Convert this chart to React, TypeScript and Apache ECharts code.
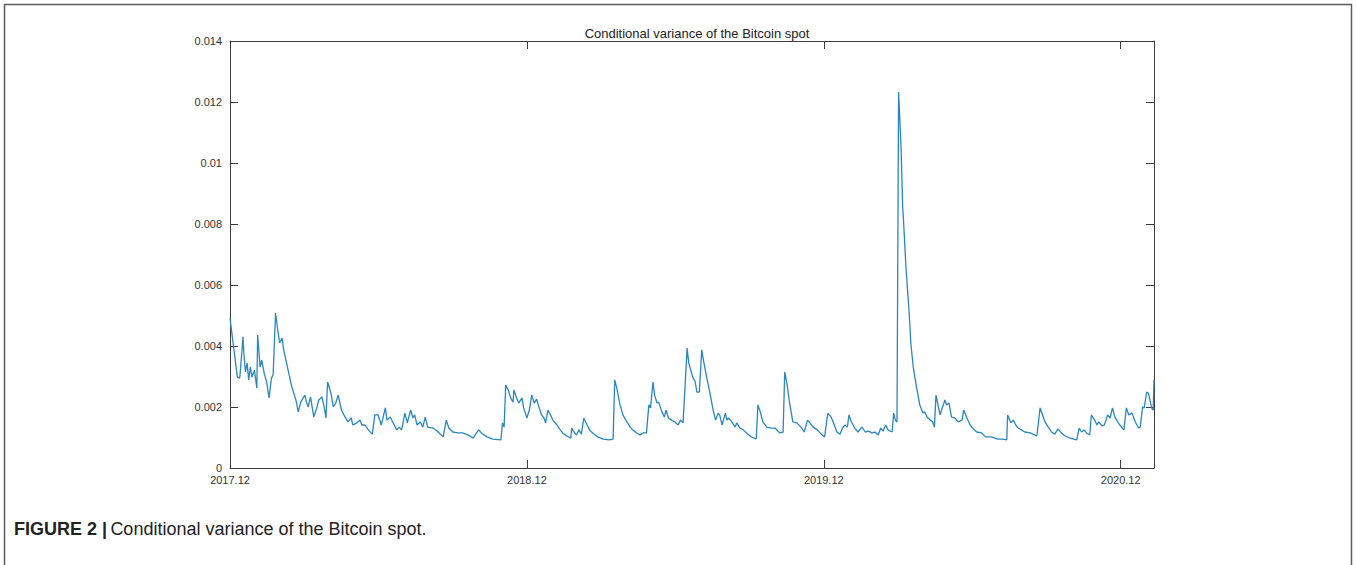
import React, { useEffect, useRef } from "react";
import * as echarts from "echarts";

// day index since 2017.12 (x) and conditional variance (y)
const days = [
  0, 1, 6, 9, 12, 14, 16, 17, 19, 21, 23, 25, 27, 30, 33, 34, 37, 39, 42, 45, 48, 51, 53, 56, 59, 61, 64, 66, 70, 76,
  81, 84, 87, 90, 92, 94, 96, 99, 103, 107, 109, 113, 116, 118, 120, 124, 127, 130, 133, 137, 140, 145, 149, 151, 156,
  160, 162, 166, 170, 175, 178, 182, 186, 191, 193, 197, 200, 205, 208, 211, 215, 218, 222, 225, 227, 230, 234, 237,
  240, 243, 250, 256, 262, 266, 269, 274, 280, 286, 293, 299, 303, 306, 309, 316, 323, 333, 335, 337, 339, 342, 345,
  348, 349, 352, 355, 359, 361, 365, 368, 371, 374, 377, 379, 383, 386, 388, 391, 394, 397, 402, 406, 409, 414, 419,
  420, 423, 426, 429, 432, 435, 439, 443, 446, 452, 459, 466, 471, 473, 476, 479, 483, 488, 492, 495, 500, 504, 508,
  512, 515, 517, 520, 522, 525, 527, 531, 534, 536, 539, 543, 547, 551, 554, 557, 562, 564, 569, 572, 574, 577, 580,
  582, 586, 590, 594, 597, 600, 602, 605, 609, 611, 613, 617, 621, 623, 627, 631, 635, 641, 647, 649, 652, 655, 660,
  665, 670, 676, 680, 682, 685, 688, 692, 697, 702, 706, 710, 713, 717, 722, 727, 731, 735, 739, 743, 746, 750, 753,
  756, 759, 761, 764, 768, 772, 777, 781, 785, 789, 793, 797, 800, 803, 806, 809, 814, 816, 818, 820, 822, 825, 827,
  828, 829, 831, 835, 837, 840, 844, 848, 852, 854, 857, 861, 864, 866, 868, 870, 873, 876, 879, 881, 884, 887, 891,
  895, 900, 902, 906, 910, 913, 918, 924, 929, 936, 944, 950, 955, 956, 960, 963, 966, 969, 973, 977, 984, 992, 996,
  999, 1002, 1006, 1010, 1014, 1018, 1022, 1027, 1033, 1041, 1044, 1047, 1050, 1053, 1057, 1059, 1063, 1066, 1068,
  1072, 1075, 1079, 1082, 1085, 1088, 1092, 1096, 1099, 1102, 1105, 1109, 1113, 1117, 1119, 1122, 1124, 1127, 1129,
  1131, 1133, 1135, 1136,
];

const variance = [
  0.00492, 0.00469, 0.00364, 0.00298, 0.00295, 0.00361, 0.0043, 0.00377, 0.00315, 0.00344, 0.00289, 0.00331, 0.00298,
  0.00321, 0.00262, 0.00436, 0.00331, 0.00354, 0.00311, 0.00282, 0.0023, 0.00295, 0.00305, 0.00508, 0.00446, 0.0041,
  0.00426, 0.00387, 0.00338, 0.00266, 0.00223, 0.00184, 0.00216, 0.0023, 0.00239, 0.00216, 0.002, 0.00233, 0.00167,
  0.002, 0.00223, 0.00233, 0.00197, 0.00164, 0.00282, 0.00246, 0.002, 0.00213, 0.00239, 0.0019, 0.00174, 0.00151,
  0.00164, 0.00141, 0.00148, 0.00157, 0.00141, 0.00141, 0.00125, 0.00111, 0.00174, 0.00174, 0.00141, 0.00197, 0.00157,
  0.00167, 0.00151, 0.00125, 0.00134, 0.00125, 0.0018, 0.00148, 0.0019, 0.00164, 0.00174, 0.00141, 0.00151, 0.00134,
  0.00167, 0.00134, 0.00131, 0.00118, 0.00102, 0.00157, 0.00131, 0.00118, 0.00115, 0.00115, 0.00108, 0.00098, 0.00115,
  0.00125, 0.00115, 0.00102, 0.00095, 0.00092, 0.00148, 0.00134, 0.00272, 0.00256, 0.0023, 0.00216, 0.00256, 0.00233,
  0.00213, 0.0023, 0.00197, 0.00164, 0.0019, 0.00239, 0.00213, 0.00226, 0.00207, 0.00174, 0.00164, 0.00148, 0.0019,
  0.00174, 0.00157, 0.00141, 0.00125, 0.00115, 0.00105, 0.00098, 0.00131, 0.00118, 0.00108, 0.00125, 0.00111, 0.00164,
  0.00141, 0.00121, 0.00115, 0.00102, 0.00095, 0.00092, 0.00095, 0.00289, 0.00256, 0.00213, 0.00174, 0.00151, 0.00134,
  0.00125, 0.00115, 0.00108, 0.00115, 0.00115, 0.00207, 0.00197, 0.00282, 0.00239, 0.00213, 0.00216, 0.00184, 0.00167,
  0.0019, 0.00164, 0.00157, 0.00151, 0.00141, 0.00157, 0.00148, 0.00393, 0.00344, 0.00298, 0.00282, 0.00249, 0.00249,
  0.00387, 0.00354, 0.00298, 0.00246, 0.0019, 0.00157, 0.0018, 0.00174, 0.00141, 0.0018, 0.00157, 0.00164, 0.00151,
  0.00134, 0.00148, 0.00131, 0.00125, 0.00115, 0.00102, 0.00095, 0.00207, 0.00184, 0.00151, 0.00134, 0.00131, 0.00131,
  0.00115, 0.00118, 0.00315, 0.00272, 0.00213, 0.00151, 0.00148, 0.00134, 0.00118, 0.00157, 0.00148, 0.00134, 0.00125,
  0.00111, 0.00102, 0.0018, 0.00167, 0.00141, 0.00118, 0.00111, 0.00131, 0.00141, 0.00134, 0.00174, 0.00151, 0.00131,
  0.00118, 0.00134, 0.00118, 0.00121, 0.00115, 0.00118, 0.00108, 0.00131, 0.00121, 0.00141, 0.00125, 0.00118, 0.0018,
  0.00157, 0.00151, 0.01233, 0.01052, 0.00856, 0.00813, 0.00764, 0.00659, 0.00508, 0.0041, 0.00331, 0.00266, 0.00207,
  0.0018, 0.00184, 0.00167, 0.00157, 0.00151, 0.00134, 0.00239, 0.00213, 0.00174, 0.002, 0.00223, 0.00207, 0.00213,
  0.00167, 0.00164, 0.00151, 0.00157, 0.0019, 0.00164, 0.00141, 0.00131, 0.00118, 0.00115, 0.00102, 0.00102, 0.00095,
  0.00095, 0.00092, 0.00174, 0.00148, 0.00157, 0.00141, 0.00131, 0.00125, 0.00118, 0.00115, 0.00105, 0.00197, 0.00174,
  0.00151, 0.00134, 0.00118, 0.00111, 0.00128, 0.00115, 0.00105, 0.00098, 0.00092, 0.00131, 0.00118, 0.00125, 0.00115,
  0.00108, 0.00174, 0.00157, 0.00141, 0.00151, 0.00138, 0.00141, 0.00174, 0.00164, 0.00197, 0.00167, 0.00148, 0.00134,
  0.00125, 0.00197, 0.00174, 0.0018, 0.00151, 0.00131, 0.00134, 0.002, 0.00197, 0.00249, 0.00246, 0.00223, 0.00197,
  0.0019, 0.00289,
];

const xTickLabels = ["2017.12", "2018.12", "2019.12", "2020.12"];
const xMax = 1136;
const yMax = 0.014;

const FONT = "'Liberation Sans', Arial, Helvetica, sans-serif";
const AXIS_COLOR = "#3c3c3c";

export default function App() {
  const ref = useRef<HTMLDivElement>(null);

  useEffect(() => {
    document.body.style.margin = "0";
    if (!ref.current) return;
    const chart = echarts.init(ref.current, null, { renderer: "svg" });

    const data = days.map((d, i) => [d, variance[i]]);

    const xCommon = {
      type: "value" as const,
      min: 0,
      max: xMax,
      interval: 365,
      splitLine: { show: false },
      axisLine: { show: true, onZero: false, lineStyle: { color: AXIS_COLOR, width: 1 } },
      axisTick: { show: true, inside: true, length: 8, lineStyle: { color: AXIS_COLOR } },
    };
    const yCommon = {
      type: "value" as const,
      min: 0,
      max: yMax,
      interval: 0.002,
      splitLine: { show: false },
      axisLine: { show: true, onZero: false, lineStyle: { color: AXIS_COLOR, width: 1 } },
      axisTick: { show: true, inside: true, length: 8, lineStyle: { color: AXIS_COLOR } },
    };

    chart.setOption({
      animation: false,
      backgroundColor: "#ffffff",
      title: {
        text: "Conditional variance of the Bitcoin spot",
        left: 692,
        top: 22,
        textAlign: "center",
        textStyle: { fontFamily: FONT, fontSize: 13, fontWeight: "normal", color: "#222" },
      },
      grid: { left: 230, right: 203, top: 41, bottom: 97, containLabel: false },
      xAxis: [
        {
          ...xCommon,
          position: "bottom",
          axisLabel: {
            show: true,
            margin: 6,
            fontFamily: FONT,
            fontSize: 11,
            color: "#333",
            showMaxLabel: false,
            formatter: (v: number) => {
              const idx = Math.round(v / 365);
              return Math.abs(v - idx * 365) < 2 ? xTickLabels[idx] ?? "" : "";
            },
          },
        },
        { ...xCommon, position: "top", axisLabel: { show: false } },
      ],
      yAxis: [
        {
          ...yCommon,
          position: "left",
          axisLabel: {
            show: true,
            margin: 8,
            fontFamily: FONT,
            fontSize: 11,
            color: "#333",
            formatter: (v: number) => (v === 0 ? "0" : String(Number(v.toFixed(3)))),
          },
        },
        { ...yCommon, position: "right", axisLabel: { show: false } },
      ],
      series: [
        {
          type: "line",
          xAxisIndex: 0,
          yAxisIndex: 0,
          data,
          showSymbol: false,
          symbol: "none",
          lineStyle: { color: "#2a86c0", width: 1.3 },
          z: 3,
        },
      ],
      graphic: [
        {
          type: "rect",
          shape: { x: 4.5, y: 4.5, width: 1347, height: 620 },
          style: { fill: "none", stroke: "#5a5a5a", lineWidth: 1.5 },
          silent: true,
        },
        {
          type: "text",
          left: 14,
          top: 520,
          style: {
            text: "{b|FIGURE 2 |} {n|Conditional variance of the Bitcoin spot.}",
            rich: {
              b: { fontFamily: FONT, fontSize: 18, fontWeight: "bold", fill: "#222" },
              n: { fontFamily: FONT, fontSize: 18, fontWeight: "normal", fill: "#222" },
            },
          },
        },
      ],
    });

    return () => chart.dispose();
  }, []);

  return <div ref={ref} style={{ width: 1357, height: 565 }} />;
}
